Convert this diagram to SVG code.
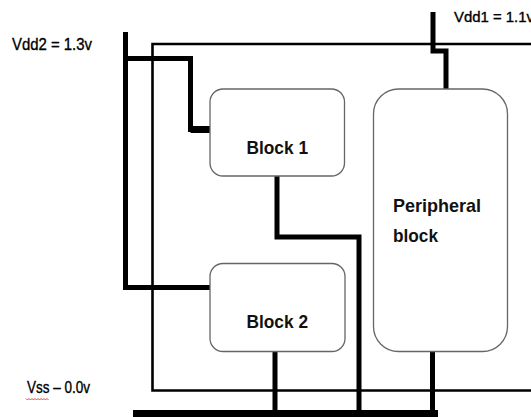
<svg xmlns="http://www.w3.org/2000/svg" width="531" height="417" viewBox="0 0 531 417">
<style>
.thick{fill:none;stroke:#000;stroke-width:5;stroke-linejoin:miter;stroke-linecap:butt}
.thin{fill:none;stroke:#000;stroke-width:2.6}
.box{fill:#fff;stroke:#666;stroke-width:1.3}
.lbl{font-family:"Liberation Sans",Arial,sans-serif;fill:#000;stroke:#000;stroke-width:0.35}
.blk{font-family:"Liberation Sans",Arial,sans-serif;font-size:19px;font-weight:bold;fill:#111}
</style>
<g id="connectors">
<path class="thin" d="M533,44 H152.5 V390.5 H533"/>
<path class="thick" d="M125.5,32 V287.5 H212"/>
<path class="thick" d="M125.5,58.5 H190.5 V129.5 H210"/>
<path class="thick" d="M190.5,129.5 H210" style="stroke-width:7"/>
<path class="thick" d="M433,12 V51 H446 V89"/>
<path class="thick" d="M277,176 V237 H359 V412"/>
<path class="thick" d="M275,352 V412"/>
<path class="thick" d="M432.5,352 V412"/>
<rect x="133" y="410" width="305" height="8" fill="#000"/>
</g>
<g id="block1">
<rect class="box" x="210" y="89" width="134.5" height="87" rx="13"/>
<text class="blk" x="246.5" y="153.5" textLength="61.5" lengthAdjust="spacingAndGlyphs">Block 1</text>
</g>
<g id="block2">
<rect class="box" x="210" y="263.5" width="135" height="88" rx="13"/>
<text class="blk" x="246.5" y="328" textLength="61.5" lengthAdjust="spacingAndGlyphs">Block 2</text>
</g>
<g id="peripheral">
<rect class="box" x="373.5" y="89" width="134" height="262.5" rx="25"/>
<text class="blk" x="393" y="212" textLength="88" lengthAdjust="spacingAndGlyphs">Peripheral</text>
<text class="blk" x="393" y="241.5" textLength="45" lengthAdjust="spacingAndGlyphs">block</text>
</g>
<g id="labels">
<text class="lbl" x="12" y="50" style="font-size:17px" textLength="80" lengthAdjust="spacingAndGlyphs">Vdd2 = 1.3v</text>
<text class="lbl" x="454" y="22" style="font-size:14.5px" textLength="80" lengthAdjust="spacingAndGlyphs">Vdd1 = 1.1v</text>
<text class="lbl" x="27" y="393" style="font-size:16px" textLength="63" lengthAdjust="spacingAndGlyphs">Vss – 0.0v</text>
<path d="M26,398.5 l1.5,1.5 l1.5,-1.5 l1.5,1.5 l1.5,-1.5 l1.5,1.5 l1.5,-1.5 l1.5,1.5 l1.5,-1.5 l1.5,1.5 l1.5,-1.5 l1.5,1.5 l1.5,-1.5 l1.5,1.5 l1.5,-1.5 l1.5,1.5" fill="none" stroke="#e03030" stroke-width="0.9"/>
</g>
</svg>
